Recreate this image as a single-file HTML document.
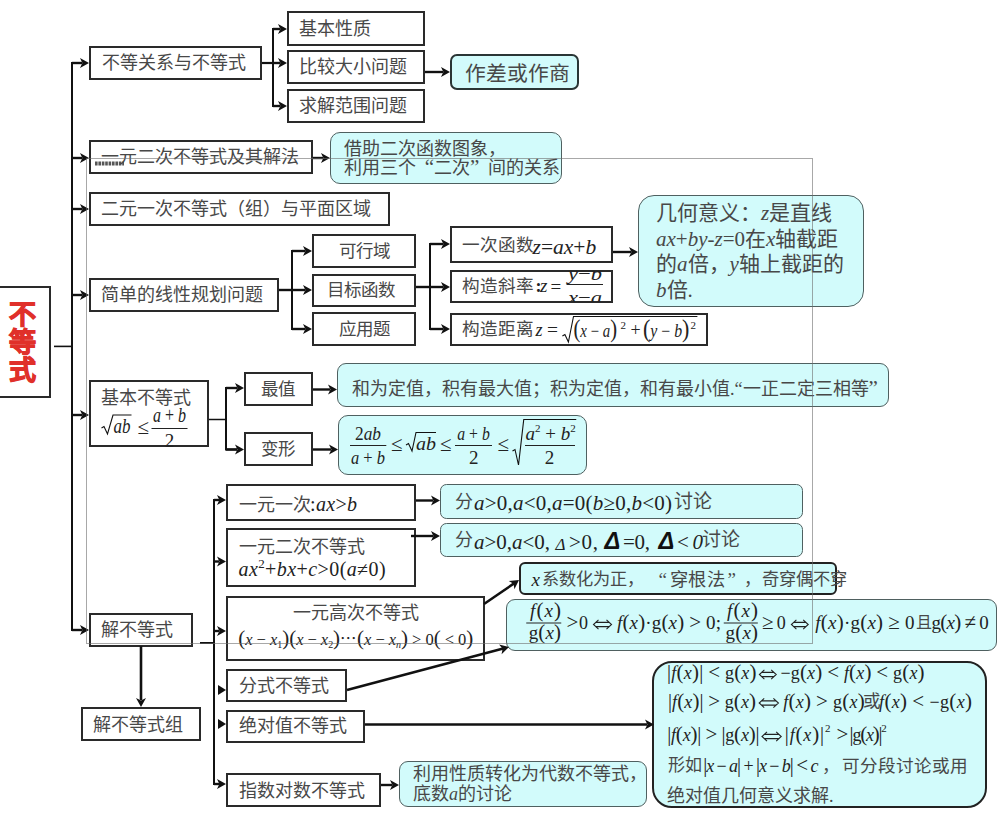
<!DOCTYPE html>
<html lang="zh-CN"><head><meta charset="utf-8"><style>
html,body{margin:0;padding:0;background:#fff;width:1000px;height:814px;overflow:hidden;position:relative}
body{font-family:"Liberation Serif",serif;color:#484848}
.b{position:absolute;box-sizing:border-box;border:2px solid #2a2a2a;background:#fff}
.c{position:absolute;box-sizing:border-box;background:#d2fbfb}
.t{position:absolute;white-space:nowrap}
.t i{font-style:italic}
.q{display:inline-block;width:18px;text-align:right;font-size:21px;line-height:10px}
.q2{display:inline-block;width:18px;text-align:left;font-size:21px;line-height:10px}
.red{position:absolute;font-family:"Liberation Sans",sans-serif;font-weight:bold;color:#e0302a;font-size:27px;line-height:28px;text-align:center;width:28px;-webkit-text-stroke:1.1px #e0302a}
svg{position:absolute;left:0;top:0}
svg text{font-family:"Liberation Serif",serif;fill:#222}
</style></head><body>
<div class="b" style="left:-2px;top:286px;width:53px;height:112px"></div><div class="b" style="left:89px;top:46px;width:173px;height:34px"></div><div class="b" style="left:287px;top:11px;width:138px;height:35px"></div><div class="b" style="left:287px;top:50px;width:138px;height:34px"></div><div class="b" style="left:287px;top:89px;width:138px;height:34px"></div><div class="b" style="left:89px;top:140px;width:224px;height:34px"></div><div class="b" style="left:89px;top:192px;width:301px;height:34px"></div><div class="b" style="left:89px;top:278px;width:190px;height:34px"></div><div class="b" style="left:312px;top:234px;width:104px;height:34px"></div><div class="b" style="left:312px;top:274px;width:104px;height:33px"></div><div class="b" style="left:312px;top:312px;width:104px;height:34px"></div><div class="b" style="left:450px;top:226px;width:163px;height:37px"></div><div class="b" style="left:450px;top:270px;width:163px;height:33px"></div><div class="b" style="left:450px;top:313px;width:258px;height:33px"></div><div class="b" style="left:89px;top:380px;width:120px;height:67px"></div><div class="b" style="left:244px;top:372px;width:69px;height:34px"></div><div class="b" style="left:244px;top:432px;width:69px;height:34px"></div><div class="b" style="left:89px;top:613px;width:103.5px;height:33.5px"></div><div class="b" style="left:81px;top:707px;width:120px;height:34px"></div><div class="b" style="left:226px;top:484px;width:190px;height:37px"></div><div class="b" style="left:226px;top:528px;width:190px;height:59px"></div><div class="b" style="left:226px;top:596px;width:259px;height:65px"></div><div class="b" style="left:226px;top:669px;width:121px;height:33px"></div><div class="b" style="left:226px;top:710px;width:139px;height:33px"></div><div class="b" style="left:226px;top:773px;width:155px;height:34px"></div>
<div class="c" style="left:450px;top:54px;width:129px;height:35.5px;border-radius:7px;border:2px solid #2a3535"></div><div class="c" style="left:330px;top:132px;width:232px;height:52px;border-radius:10px;border:1.5px solid #4f6060"></div><div class="c" style="left:638px;top:195px;width:226px;height:112px;border-radius:16px;border:1.5px solid #4f6060"></div><div class="c" style="left:337px;top:363px;width:552px;height:44px;border-radius:9px;border:1.5px solid #4f6060"></div><div class="c" style="left:338px;top:415px;width:249px;height:60px;border-radius:10px;border:1.5px solid #4f6060"></div><div class="c" style="left:440px;top:483.5px;width:363px;height:35.5px;border-radius:6.5px;border:1.5px solid #4f6060"></div><div class="c" style="left:440px;top:522.5px;width:363px;height:34.5px;border-radius:6.5px;border:1.5px solid #4f6060"></div><div class="c" style="left:519px;top:562px;width:318px;height:33px;border-radius:6px;border:2px solid #222"></div><div class="c" style="left:506px;top:599px;width:491px;height:52px;border-radius:9px;border:1.5px solid #4f6060"></div><div class="c" style="left:652px;top:661px;width:335px;height:147px;border-radius:20px;border:2px solid #222"></div><div class="c" style="left:399px;top:761px;width:248px;height:46px;border-radius:9px;border:1.5px solid #4f6060"></div>
<svg width="1000" height="814" viewBox="0 0 1000 814"><defs><clipPath id="cl1"><rect x="450" y="271" width="163" height="31"/></clipPath></defs><line x1="54.00" y1="346.40" x2="72.00" y2="346.40" stroke="#111" stroke-width="1.6"/><polyline points="81,63 72,63 72,630 81,630" fill="none" stroke="#111" stroke-width="2.0" stroke-linejoin="miter"/><line x1="72.00" y1="63.00" x2="82.00" y2="63.00" stroke="#111" stroke-width="2.4"/><polygon points="89.00,63.00 80.00,58.00 82.40,63.00 80.00,68.00" fill="#111"/><line x1="72.00" y1="158.00" x2="82.00" y2="158.00" stroke="#111" stroke-width="2.4"/><polygon points="89.00,158.00 80.00,153.00 82.40,158.00 80.00,163.00" fill="#111"/><line x1="72.00" y1="209.00" x2="82.00" y2="209.00" stroke="#111" stroke-width="2.4"/><polygon points="89.00,209.00 80.00,204.00 82.40,209.00 80.00,214.00" fill="#111"/><line x1="72.00" y1="295.00" x2="82.00" y2="295.00" stroke="#111" stroke-width="2.4"/><polygon points="89.00,295.00 80.00,290.00 82.40,295.00 80.00,300.00" fill="#111"/><line x1="72.00" y1="415.00" x2="82.00" y2="415.00" stroke="#111" stroke-width="2.4"/><polygon points="89.00,415.00 80.00,410.00 82.40,415.00 80.00,420.00" fill="#111"/><line x1="72.00" y1="630.00" x2="82.00" y2="630.00" stroke="#111" stroke-width="2.4"/><polygon points="89.00,630.00 80.00,625.00 82.40,630.00 80.00,635.00" fill="#111"/><line x1="262.00" y1="63.00" x2="273.00" y2="63.00" stroke="#111" stroke-width="2.2"/><polyline points="279,29 273,29 273,106 279,106" fill="none" stroke="#111" stroke-width="2.0" stroke-linejoin="miter"/><line x1="273.00" y1="29.00" x2="280.00" y2="29.00" stroke="#111" stroke-width="2.4"/><polygon points="287.00,29.00 278.00,24.00 280.40,29.00 278.00,34.00" fill="#111"/><line x1="273.00" y1="63.00" x2="280.00" y2="63.00" stroke="#111" stroke-width="2.4"/><polygon points="287.00,63.00 278.00,58.00 280.40,63.00 278.00,68.00" fill="#111"/><line x1="273.00" y1="106.00" x2="280.00" y2="106.00" stroke="#111" stroke-width="2.4"/><polygon points="287.00,106.00 278.00,101.00 280.40,106.00 278.00,111.00" fill="#111"/><line x1="425.00" y1="72.00" x2="443.00" y2="72.00" stroke="#111" stroke-width="2.4"/><polygon points="450.00,72.00 441.00,67.00 443.40,72.00 441.00,77.00" fill="#111"/><line x1="313.00" y1="158.00" x2="323.00" y2="158.00" stroke="#111" stroke-width="2.4"/><polygon points="330.00,158.00 321.00,153.00 323.40,158.00 321.00,163.00" fill="#111"/><line x1="95" y1="163.5" x2="124" y2="163.5" stroke="#555" stroke-width="4" stroke-dasharray="2.6 0.8"/><line x1="279.00" y1="290.00" x2="292.00" y2="290.00" stroke="#111" stroke-width="2.4"/><polyline points="305,251 292,251 292,329 305,329" fill="none" stroke="#111" stroke-width="2.0" stroke-linejoin="miter"/><line x1="292.00" y1="251.00" x2="305.00" y2="251.00" stroke="#111" stroke-width="2.4"/><polygon points="312.00,251.00 303.00,246.00 305.40,251.00 303.00,256.00" fill="#111"/><line x1="292.00" y1="290.00" x2="305.00" y2="290.00" stroke="#111" stroke-width="2.4"/><polygon points="312.00,290.00 303.00,285.00 305.40,290.00 303.00,295.00" fill="#111"/><line x1="292.00" y1="329.00" x2="305.00" y2="329.00" stroke="#111" stroke-width="2.4"/><polygon points="312.00,329.00 303.00,324.00 305.40,329.00 303.00,334.00" fill="#111"/><line x1="416.00" y1="287.00" x2="430.00" y2="287.00" stroke="#111" stroke-width="2.4"/><polyline points="443,244 430,244 430,329 443,329" fill="none" stroke="#111" stroke-width="2.0" stroke-linejoin="miter"/><line x1="430.00" y1="244.00" x2="443.00" y2="244.00" stroke="#111" stroke-width="2.4"/><polygon points="450.00,244.00 441.00,239.00 443.40,244.00 441.00,249.00" fill="#111"/><line x1="430.00" y1="287.00" x2="443.00" y2="287.00" stroke="#111" stroke-width="2.4"/><polygon points="450.00,287.00 441.00,282.00 443.40,287.00 441.00,292.00" fill="#111"/><line x1="430.00" y1="329.00" x2="443.00" y2="329.00" stroke="#111" stroke-width="2.4"/><polygon points="450.00,329.00 441.00,324.00 443.40,329.00 441.00,334.00" fill="#111"/><line x1="566.50" y1="284.50" x2="603.00" y2="284.50" stroke="#222" stroke-width="1"/><path d="M562.4,336 L564.9,334.5 L568.4,342 L573.5,316.5 L697.4,316.5" fill="none" stroke="#111" stroke-width="1.1"/><line x1="613.00" y1="252.00" x2="631.00" y2="252.00" stroke="#111" stroke-width="2.4"/><polygon points="638.00,252.00 629.00,247.00 631.40,252.00 629.00,257.00" fill="#111"/><path d="M101.5,428 L104.0,426.5 L107.5,434 L113,415 L131.5,415" fill="none" stroke="#111" stroke-width="1.1"/><line x1="151.50" y1="428.50" x2="187.50" y2="428.50" stroke="#222" stroke-width="1"/><line x1="209.00" y1="419.50" x2="226.00" y2="419.50" stroke="#111" stroke-width="1.5"/><polyline points="237,388 226,388 226,449.5 237,449.5" fill="none" stroke="#111" stroke-width="2.0" stroke-linejoin="miter"/><line x1="226.00" y1="388.00" x2="237.00" y2="388.00" stroke="#111" stroke-width="2.4"/><polygon points="244.00,388.00 235.00,383.00 237.40,388.00 235.00,393.00" fill="#111"/><line x1="226.00" y1="449.50" x2="237.00" y2="449.50" stroke="#111" stroke-width="2.4"/><polygon points="244.00,449.50 235.00,444.50 237.40,449.50 235.00,454.50" fill="#111"/><line x1="313.00" y1="389.50" x2="330.00" y2="389.50" stroke="#111" stroke-width="2.4"/><polygon points="337.00,389.50 328.00,384.50 330.40,389.50 328.00,394.50" fill="#111"/><line x1="313.00" y1="449.50" x2="331.00" y2="449.50" stroke="#111" stroke-width="2.4"/><polygon points="338.00,449.50 329.00,444.50 331.40,449.50 329.00,454.50" fill="#111"/><line x1="350.00" y1="445.50" x2="386.30" y2="445.50" stroke="#222" stroke-width="1"/><path d="M406,445 L408.5,443.5 L412,451 L416,432.5 L436,432.5" fill="none" stroke="#111" stroke-width="1.1"/><line x1="455.00" y1="445.50" x2="492.00" y2="445.50" stroke="#222" stroke-width="1"/><path d="M512.5,451 L515,449.5 L518.5,465 L523.75,419.5 L576.25,419.5" fill="none" stroke="#111" stroke-width="1.1"/><line x1="525.00" y1="445.50" x2="575.00" y2="445.50" stroke="#222" stroke-width="1"/><line x1="141.00" y1="646.00" x2="141.00" y2="700.00" stroke="#111" stroke-width="2.6"/><polygon points="141.00,707.00 146.00,698.00 141.00,700.40 136.00,698.00" fill="#111"/><line x1="200.00" y1="643.00" x2="214.00" y2="643.00" stroke="#111" stroke-width="2"/><polyline points="222,500 214,500 214,784 222,784" fill="none" stroke="#111" stroke-width="2.0" stroke-linejoin="miter"/><line x1="214.00" y1="500.00" x2="219.00" y2="500.00" stroke="#111" stroke-width="2.4"/><polygon points="226.00,500.00 217.00,495.00 219.40,500.00 217.00,505.00" fill="#111"/><line x1="214.00" y1="561.50" x2="219.00" y2="561.50" stroke="#111" stroke-width="2.4"/><polygon points="226.00,561.50 217.00,556.50 219.40,561.50 217.00,566.50" fill="#111"/><line x1="214.00" y1="631.00" x2="219.00" y2="631.00" stroke="#111" stroke-width="2.4"/><polygon points="226.00,631.00 217.00,626.00 219.40,631.00 217.00,636.00" fill="#111"/><line x1="214.00" y1="784.00" x2="219.00" y2="784.00" stroke="#111" stroke-width="2.4"/><polygon points="226.00,784.00 217.00,779.00 219.40,784.00 217.00,789.00" fill="#111"/><polygon points="226.00,690.00 218.00,685.00 218.00,690.00 218.00,695.00" fill="#111"/><polygon points="226.00,724.00 218.00,719.00 218.00,724.00 218.00,729.00" fill="#111"/><line x1="416.00" y1="500.50" x2="433.00" y2="500.50" stroke="#111" stroke-width="2.4"/><polygon points="440.00,500.50 431.00,495.50 433.40,500.50 431.00,505.50" fill="#111"/><line x1="411.00" y1="536.00" x2="433.00" y2="536.00" stroke="#111" stroke-width="2.4"/><polygon points="440.00,536.00 431.00,531.00 433.40,536.00 431.00,541.00" fill="#111"/><line x1="484.00" y1="604.00" x2="514.05" y2="583.39" stroke="#111" stroke-width="2.5"/><polygon points="519.00,580.00 508.75,580.97 513.56,583.73 514.41,589.21" fill="#111"/><line x1="347.00" y1="690.00" x2="503.20" y2="648.54" stroke="#111" stroke-width="2.5"/><polygon points="509.00,647.00 499.02,644.48 502.62,648.69 501.58,654.14" fill="#111"/><line x1="526.25" y1="623.00" x2="561.25" y2="623.00" stroke="#222" stroke-width="1"/><path d="M598.5,619.9 L593.5,624.5 L598.5,629.1 M606.5,619.9 L611.5,624.5 L606.5,629.1 M596.0,622.4 L609.0,622.4 M596.0,626.6 L609.0,626.6" fill="none" stroke="#222" stroke-width="1.1"/><line x1="723.75" y1="623.00" x2="757.80" y2="623.00" stroke="#222" stroke-width="1"/><path d="M796.4,619.9 L791.4,624.5 L796.4,629.1 M803.2,619.9 L808.2,624.5 L803.2,629.1 M793.9,622.4 L805.7,622.4 M793.9,626.6 L805.7,626.6" fill="none" stroke="#222" stroke-width="1.1"/><line x1="365.00" y1="724.50" x2="647.00" y2="724.50" stroke="#111" stroke-width="2.6"/><polygon points="654.00,724.50 645.00,719.50 647.40,724.50 645.00,729.50" fill="#111"/><path d="M764.4,669.9 L759.4,674.5 L764.4,679.1 M771.2,669.9 L776.2,674.5 L771.2,679.1 M761.9,672.4 L773.7,672.4 M761.9,676.6 L773.7,676.6" fill="none" stroke="#222" stroke-width="1.1"/><path d="M764.2,698.4 L759.2,703 L764.2,707.6 M773.4,698.4 L778.4,703 L773.4,707.6 M761.7,700.9 L775.9,700.9 M761.7,705.1 L775.9,705.1" fill="none" stroke="#222" stroke-width="1.1"/><path d="M767,731.9 L762,736.5 L767,741.1 M776.2,731.9 L781.2,736.5 L776.2,741.1 M764.5,734.4 L778.7,734.4 M764.5,738.6 L778.7,738.6" fill="none" stroke="#222" stroke-width="1.1"/><line x1="381.00" y1="785.00" x2="392.00" y2="785.00" stroke="#111" stroke-width="2.4"/><polygon points="399.00,785.00 390.00,780.00 392.40,785.00 390.00,790.00" fill="#111"/><text x="532.5" y="253.5" font-size="20" textLength="63.8" lengthAdjust="spacingAndGlyphs" ><tspan font-style="italic">z</tspan>=<tspan font-style="italic">ax</tspan>+<tspan font-style="italic">b</tspan></text><text x="535.5" y="292" font-size="18" ><tspan font-weight="bold">:</tspan></text><text x="540" y="292" font-size="19" ><tspan font-style="italic">z</tspan></text><text x="550.5" y="292.5" font-size="19" >=</text><text x="585" y="279.5" font-size="19" text-anchor="middle" textLength="34" lengthAdjust="spacingAndGlyphs" clip-path="url(#cl1)" ><tspan font-style="italic">y</tspan>−<tspan font-style="italic">b</tspan></text><text x="585" y="304" font-size="19" text-anchor="middle" textLength="34" lengthAdjust="spacingAndGlyphs" clip-path="url(#cl1)" ><tspan font-style="italic">x</tspan>−<tspan font-style="italic">a</tspan></text><text x="535.5" y="335.5" font-size="18" ><tspan font-style="italic">z</tspan></text><text x="547" y="336" font-size="18" textLength="11" lengthAdjust="spacingAndGlyphs" >=</text><text x="573.5" y="336.5" font-size="18" textLength="43.5" lengthAdjust="spacingAndGlyphs" ><tspan font-size="25">(</tspan><tspan font-style="italic">x</tspan> − <tspan font-style="italic">a</tspan><tspan font-size="25">)</tspan></text><text x="620.5" y="329" font-size="11" >2</text><text x="630.5" y="336" font-size="18" >+</text><text x="642.9" y="336.5" font-size="18" textLength="46.5" lengthAdjust="spacingAndGlyphs" ><tspan font-size="25">(</tspan><tspan font-style="italic">y</tspan> − <tspan font-style="italic">b</tspan><tspan font-size="25">)</tspan></text><text x="690.5" y="329" font-size="11" >2</text><text x="113.5" y="432.5" font-size="20" textLength="17" lengthAdjust="spacingAndGlyphs" ><tspan font-style="italic">ab</tspan></text><text x="137.5" y="433.5" font-size="21" >≤</text><text x="169.5" y="421.5" font-size="20" text-anchor="middle" textLength="33" lengthAdjust="spacingAndGlyphs" ><tspan font-style="italic">a</tspan> + <tspan font-style="italic">b</tspan></text><text x="169.5" y="447" font-size="19" text-anchor="middle" >2</text><text x="368" y="440" font-size="19" text-anchor="middle" textLength="26" lengthAdjust="spacingAndGlyphs" >2<tspan font-style="italic">ab</tspan></text><text x="368" y="463.5" font-size="19" text-anchor="middle" textLength="34" lengthAdjust="spacingAndGlyphs" ><tspan font-style="italic">a</tspan> + <tspan font-style="italic">b</tspan></text><text x="391" y="451" font-size="21" >≤</text><text x="416" y="450" font-size="19" textLength="20" lengthAdjust="spacingAndGlyphs" ><tspan font-style="italic">ab</tspan></text><text x="440" y="451" font-size="21" >≤</text><text x="473.5" y="440" font-size="19" text-anchor="middle" textLength="32.5" lengthAdjust="spacingAndGlyphs" ><tspan font-style="italic">a</tspan> + <tspan font-style="italic">b</tspan></text><text x="473.8" y="463.5" font-size="19" text-anchor="middle" >2</text><text x="497.5" y="451" font-size="21" >≤</text><text x="525.5" y="440" font-size="19" ><tspan font-style="italic">a</tspan><tspan font-size="11" baseline-shift="8">2</tspan> + <tspan font-style="italic">b</tspan><tspan font-size="11" baseline-shift="8">2</tspan></text><text x="549.4" y="463.5" font-size="19" text-anchor="middle" >2</text><text x="310" y="510.5" font-size="20" textLength="47.00" lengthAdjust="spacing" >:<tspan font-style="italic">ax</tspan>&gt;<tspan font-style="italic">b</tspan></text><text x="238.5" y="576" font-size="20" textLength="147.10" lengthAdjust="spacing" ><tspan font-style="italic">ax</tspan><tspan font-size="13" baseline-shift="8">2</tspan>+<tspan font-style="italic">bx</tspan>+<tspan font-style="italic">c</tspan>&gt;0(<tspan font-style="italic">a</tspan>≠0)</text><text x="238.25" y="645" font-size="16.5" textLength="235.00" lengthAdjust="spacing" ><tspan font-size="21">(</tspan><tspan font-style="italic">x</tspan> − <tspan font-style="italic">x</tspan><tspan font-size="10" baseline-shift="-3">1</tspan><tspan font-size="21">)(</tspan><tspan font-style="italic">x</tspan> − <tspan font-style="italic">x</tspan><tspan font-size="10" baseline-shift="-3">2</tspan><tspan font-size="21">)</tspan>⋯<tspan font-size="21">(</tspan><tspan font-style="italic">x</tspan> − <tspan font-style="italic">x</tspan><tspan font-style="italic"><tspan font-size="10" baseline-shift="-3">n</tspan></tspan><tspan font-size="21">)</tspan> &gt; 0<tspan font-size="21">(</tspan> &lt; 0<tspan font-size="21">)</tspan></text><text x="474" y="509.5" font-size="21" textLength="198.00" lengthAdjust="spacing" ><tspan font-style="italic">a</tspan>&gt;0,<tspan font-style="italic">a</tspan>&lt;0,<tspan font-style="italic">a</tspan>=0(<tspan font-style="italic">b</tspan>≥0,<tspan font-style="italic">b</tspan>&lt;0)</text><text x="474" y="549" font-size="21" textLength="76.00" lengthAdjust="spacing" ><tspan font-style="italic">a</tspan>&gt;0,<tspan font-style="italic">a</tspan>&lt;0,</text><text x="555.5" y="549.5" font-size="17" style="font-style:italic">Δ</text><text x="569" y="549" font-size="21" textLength="29.00" lengthAdjust="spacing" >&gt;0,</text><text x="604.5" y="549.3" font-size="23.5" style="font-family:'Liberation Sans',sans-serif;font-weight:bold;font-style:italic;fill:#111">Δ</text><text x="623" y="549" font-size="21" textLength="27.00" lengthAdjust="spacing" >=0,</text><text x="658.5" y="549.3" font-size="23.5" style="font-family:'Liberation Sans',sans-serif;font-weight:bold;font-style:italic;fill:#111">Δ</text><text x="677" y="549" font-size="21" textLength="26.00" lengthAdjust="spacing" >&lt;<tspan font-style="italic">0</tspan></text><text x="531.5" y="585.5" font-size="19" ><tspan font-style="italic">x</tspan></text><text x="530" y="617" font-size="19" textLength="31.00" lengthAdjust="spacing" ><tspan font-style="italic">f</tspan><tspan font-size="21">(</tspan><tspan font-style="italic">x</tspan><tspan font-size="21">)</tspan></text><text x="528.75" y="638.5" font-size="19" textLength="32.25" lengthAdjust="spacing" >g<tspan font-size="21">(</tspan><tspan font-style="italic">x</tspan><tspan font-size="21">)</tspan></text><text x="566.5" y="629" font-size="18" textLength="21.50" lengthAdjust="spacing" > <tspan font-size="21">&gt;</tspan>  0</text><text x="617" y="629" font-size="19" textLength="104.00" lengthAdjust="spacing" ><tspan font-style="italic">f</tspan><tspan font-size="21">(</tspan><tspan font-style="italic">x</tspan><tspan font-size="21">)</tspan>·g<tspan font-size="21">(</tspan><tspan font-style="italic">x</tspan><tspan font-size="21">)</tspan> <tspan font-size="21">&gt;</tspan>  0;</text><text x="727" y="617" font-size="19" textLength="31.00" lengthAdjust="spacing" ><tspan font-style="italic">f</tspan><tspan font-size="21">(</tspan><tspan font-style="italic">x</tspan><tspan font-size="21">)</tspan></text><text x="725.5" y="638.5" font-size="19" textLength="32.50" lengthAdjust="spacing" >g<tspan font-size="21">(</tspan><tspan font-style="italic">x</tspan><tspan font-size="21">)</tspan></text><text x="762" y="629" font-size="18" textLength="23.80" lengthAdjust="spacing" > <tspan font-size="21">≥</tspan>  0</text><text x="815.2" y="629" font-size="19" textLength="99.40" lengthAdjust="spacing" ><tspan font-style="italic">f</tspan><tspan font-size="21">(</tspan><tspan font-style="italic">x</tspan><tspan font-size="21">)</tspan>·g<tspan font-size="21">(</tspan><tspan font-style="italic">x</tspan><tspan font-size="21">)</tspan> <tspan font-size="21">≥</tspan>  0</text><text x="931.4" y="629" font-size="19" textLength="57.40" lengthAdjust="spacing" >g<tspan font-size="21">(</tspan><tspan font-style="italic">x</tspan><tspan font-size="21">)</tspan> <tspan font-size="21">≠</tspan>  0</text><text x="667" y="679" font-size="18" textLength="89.60" lengthAdjust="spacing" ><tspan font-size="20">|</tspan><tspan font-style="italic">f</tspan><tspan font-size="21">(</tspan><tspan font-style="italic">x</tspan><tspan font-size="21">)</tspan><tspan font-size="20">|</tspan> <tspan font-size="21">&lt;</tspan> g<tspan font-size="21">(</tspan><tspan font-style="italic">x</tspan><tspan font-size="21">)</tspan></text><text x="780.4" y="679" font-size="18" textLength="144.20" lengthAdjust="spacing" >−g<tspan font-size="21">(</tspan><tspan font-style="italic">x</tspan><tspan font-size="21">)</tspan> <tspan font-size="21">&lt;</tspan> <tspan font-style="italic">f</tspan><tspan font-size="21">(</tspan><tspan font-style="italic">x</tspan><tspan font-size="21">)</tspan> <tspan font-size="21">&lt;</tspan> g<tspan font-size="21">(</tspan><tspan font-style="italic">x</tspan><tspan font-size="21">)</tspan></text><text x="668" y="707.5" font-size="18" textLength="88.00" lengthAdjust="spacing" ><tspan font-size="20">|</tspan><tspan font-style="italic">f</tspan><tspan font-size="21">(</tspan><tspan font-style="italic">x</tspan><tspan font-size="21">)</tspan><tspan font-size="20">|</tspan> <tspan font-size="21">&gt;</tspan> g<tspan font-size="21">(</tspan><tspan font-style="italic">x</tspan><tspan font-size="21">)</tspan></text><text x="783.2" y="707.5" font-size="18" textLength="81.60" lengthAdjust="spacing" ><tspan font-style="italic">f</tspan><tspan font-size="21">(</tspan><tspan font-style="italic">x</tspan><tspan font-size="21">)</tspan> <tspan font-size="21">&gt;</tspan> g<tspan font-size="21">(</tspan><tspan font-style="italic">x</tspan><tspan font-size="21">)</tspan></text><text x="879" y="707.5" font-size="18" textLength="93.00" lengthAdjust="spacing" ><tspan font-style="italic">f</tspan><tspan font-size="21">(</tspan><tspan font-style="italic">x</tspan><tspan font-size="21">)</tspan> <tspan font-size="21">&lt;</tspan> −g<tspan font-size="21">(</tspan><tspan font-style="italic">x</tspan><tspan font-size="21">)</tspan></text><text x="667.2" y="741.4" font-size="18" textLength="92.40" lengthAdjust="spacing" ><tspan font-size="20">|</tspan><tspan font-style="italic">f</tspan><tspan font-size="21">(</tspan><tspan font-style="italic">x</tspan><tspan font-size="21">)</tspan><tspan font-size="20">|</tspan> <tspan font-size="21">&gt;</tspan> <tspan font-size="20">|</tspan>g<tspan font-size="21">(</tspan><tspan font-style="italic">x</tspan><tspan font-size="21">)</tspan><tspan font-size="20">|</tspan></text><text x="784.8" y="741.4" font-size="18" textLength="45.60" lengthAdjust="spacing" ><tspan font-size="20">|</tspan><tspan font-style="italic">f</tspan><tspan font-size="21">(</tspan><tspan font-style="italic">x</tspan><tspan font-size="21">)</tspan><tspan font-size="20">|</tspan><tspan font-size="11" baseline-shift="9">2</tspan></text><text x="836.4" y="741.4" font-size="18" textLength="8.40" lengthAdjust="spacing" > <tspan font-size="21">&gt;</tspan> </text><text x="849.6" y="741.4" font-size="18" textLength="37.20" lengthAdjust="spacing" ><tspan font-size="20">|</tspan>g<tspan font-size="21">(</tspan><tspan font-style="italic">x</tspan><tspan font-size="21">)</tspan><tspan font-size="20">|</tspan><tspan font-size="11" baseline-shift="9">2</tspan></text><text x="703.2" y="771.8" font-size="18" textLength="115.20" lengthAdjust="spacing" ><tspan font-size="20">|</tspan><tspan font-style="italic">x</tspan> − <tspan font-style="italic">a</tspan><tspan font-size="20">|</tspan> + <tspan font-size="20">|</tspan><tspan font-style="italic">x</tspan> − <tspan font-style="italic">b</tspan><tspan font-size="20">|</tspan> <tspan font-size="21">&lt;</tspan> <tspan font-style="italic">c</tspan></text></svg>
<div class="red" style="left:8px;top:301px;">不<br>等<br>式</div><div class="t" style="left:102px;top:45px;line-height:36px;font-size:18px;">不等关系与不等式</div><div class="t" style="left:299px;top:10.5px;line-height:36px;font-size:18px;">基本性质</div><div class="t" style="left:299px;top:49px;line-height:36px;font-size:18px;">比较大小问题</div><div class="t" style="left:299px;top:88px;line-height:36px;font-size:18px;">求解范围问题</div><div class="t" style="left:464.5px;top:52.7px;line-height:41.6px;font-size:20.8px;">作差或作商</div><div class="t" style="left:101px;top:139px;line-height:36px;font-size:18px;">一元二次不等式及其解法</div><div class="t" style="left:344px;top:139.5px;font-size:18px;line-height:19px">借助二次函数图象，<br>利用三个<span class="q">“</span>二次<span class="q2">”</span>间的关系</div><div class="t" style="left:101px;top:191px;line-height:36px;font-size:18px;">二元一次不等式（组）与平面区域</div><div class="t" style="left:101px;top:277px;line-height:36px;font-size:18px;">简单的线性规划问题</div><div class="t" style="left:339px;top:233.5px;line-height:35.0px;font-size:17.5px;">可行域</div><div class="t" style="left:327px;top:272.5px;line-height:35.0px;font-size:17.5px;">目标函数</div><div class="t" style="left:339px;top:311.5px;line-height:35.0px;font-size:17.5px;">应用题</div><div class="t" style="left:462px;top:228.4px;line-height:35.2px;font-size:17.6px;">一次函数</div><div class="t" style="left:462px;top:269.4px;line-height:35.2px;font-size:17.6px;">构造斜率</div><div class="t" style="left:462px;top:312.4px;line-height:35.2px;font-size:17.6px;">构造距离</div><div class="t" style="left:656px;top:201px;font-size:21px;line-height:25.5px">几何意义：<i>z</i>是直线<br><i>ax</i>+<i>by</i>-<i>z</i>=0在<i>x</i>轴截距<br>的<i>a</i>倍，<i>y</i>轴上截距的<br><i>b</i>倍.</div><div class="t" style="left:101px;top:380px;line-height:36px;font-size:18px;">基本不等式</div><div class="t" style="left:261px;top:371.5px;line-height:35.0px;font-size:17.5px;">最值</div><div class="t" style="left:261px;top:431.5px;line-height:35.0px;font-size:17.5px;">变形</div><div class="t" style="left:352px;top:370.5px;line-height:36px;font-size:18px;">和为定值，积有最大值；积为定值，和有最小值<span class="m">.“</span>一正二定三相等<span class="q2">”</span></div><div class="t" style="left:101px;top:612px;line-height:36px;font-size:18px;">解不等式</div><div class="t" style="left:93px;top:707px;line-height:36px;font-size:18px;">解不等式组</div><div class="t" style="left:238.5px;top:486.5px;line-height:36px;font-size:18px;">一元一次</div><div class="t" style="left:238.5px;top:528.5px;line-height:36px;font-size:18px;">一元二次不等式</div><div class="t" style="left:293px;top:595px;line-height:36px;font-size:18px;">一元高次不等式</div><div class="t" style="left:238.5px;top:668px;line-height:36px;font-size:18px;">分式不等式</div><div class="t" style="left:238.5px;top:708px;line-height:36px;font-size:18px;">绝对值不等式</div><div class="t" style="left:238.5px;top:772.5px;line-height:36px;font-size:18px;">指数对数不等式</div><div class="t" style="left:455px;top:484px;line-height:36px;font-size:18px;">分</div><div class="t" style="left:673.5px;top:483px;line-height:38px;font-size:19px;">讨论</div><div class="t" style="left:455px;top:522px;line-height:36px;font-size:18px;">分</div><div class="t" style="left:702px;top:521px;line-height:38px;font-size:19px;">讨论</div><div class="t" style="left:542px;top:562.8px;line-height:34.4px;font-size:17.2px;">系数化为正，</div><div class="t" style="left:658.5px;top:561px;line-height:38px;font-size:19px;">“</div><div class="t" style="left:669.5px;top:561.7px;line-height:36.6px;font-size:18.3px;letter-spacing:0.8px">穿根法</div><div class="t" style="left:727.5px;top:561px;line-height:38px;font-size:19px;">”</div><div class="t" style="left:744px;top:562.8px;line-height:34.4px;font-size:17.2px;">，</div><div class="t" style="left:761.5px;top:562.7px;line-height:34.6px;font-size:17.3px;">奇穿偶不穿</div><div class="t" style="left:916px;top:607px;line-height:32px;font-size:16px;">且</div><div class="t" style="left:863.2px;top:683.9px;line-height:35.2px;font-size:17.6px;">或</div><div class="t" style="left:668px;top:749.4px;line-height:34px;font-size:17px;">形如</div><div class="t" style="left:821.6px;top:748.8px;line-height:35.2px;font-size:17.6px;">，</div><div class="t" style="left:842.4px;top:748.8px;line-height:35.2px;font-size:17.6px;">可分段讨论或用</div><div class="t" style="left:667px;top:778px;line-height:36px;font-size:18px;">绝对值几何意义求解<span class="m">.</span></div><div class="t" style="left:413px;top:765px;font-size:18px;line-height:19.5px">利用性质转化为代数不等式，<br>底数<i>a</i>的讨论</div>
<div style="position:absolute;left:86px;top:158px;width:727px;height:486px;border:1px solid rgba(110,110,110,0.6);box-sizing:border-box"></div>
</body></html>
